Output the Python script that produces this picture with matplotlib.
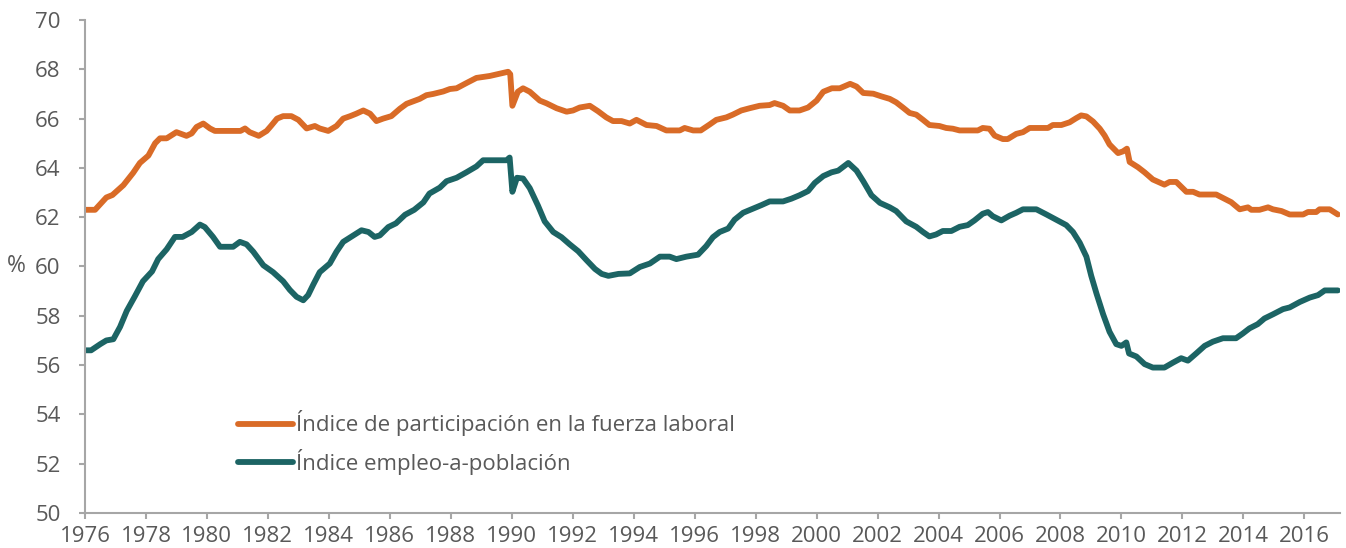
import matplotlib
matplotlib.use("Agg")
import matplotlib.pyplot as plt

# ---- data ----
lfpr_years = [1976.0, 1976.33, 1976.7, 1976.9, 1977.26, 1977.58, 1977.8, 1978.08, 1978.3, 1978.46,
              1978.68, 1979.0, 1979.33, 1979.5, 1979.66, 1979.88, 1980.1, 1980.26, 1980.86, 1981.1,
              1981.25, 1981.4, 1981.7, 1981.96, 1982.1, 1982.3, 1982.5, 1982.77, 1983.0, 1983.27,
              1983.54, 1983.7, 1983.98, 1984.25, 1984.47, 1984.7, 1984.9, 1985.13, 1985.35, 1985.56,
              1985.78, 1986.05, 1986.33, 1986.55, 1986.77, 1986.98, 1987.2, 1987.42, 1987.75, 1987.97,
              1988.19, 1988.51, 1988.84, 1989.28, 1989.66, 1989.88, 1989.95, 1990.02, 1990.2, 1990.37,
              1990.59, 1990.92, 1991.14, 1991.47, 1991.8, 1992.01, 1992.23, 1992.56, 1992.83, 1993.1,
              1993.32, 1993.6, 1993.87, 1994.09, 1994.42, 1994.75, 1995.07, 1995.51, 1995.67, 1995.95,
              1996.2, 1996.49, 1996.71, 1997.04, 1997.25, 1997.53, 1997.8, 1998.13, 1998.46, 1998.62,
              1998.9, 1999.12, 1999.44, 1999.72, 2000.0, 2000.22, 2000.5, 2000.76, 2001.1, 2001.31,
              2001.53, 2001.86, 2002.13, 2002.4, 2002.61, 2002.83, 2003.05, 2003.27, 2003.49, 2003.7,
              2004.03, 2004.25, 2004.47, 2004.69, 2005.29, 2005.45, 2005.67, 2005.84, 2006.11, 2006.27,
              2006.55, 2006.77, 2006.99, 2007.59, 2007.75, 2008.03, 2008.3, 2008.52, 2008.68, 2008.85,
              2009.07, 2009.29, 2009.45, 2009.61, 2009.89, 2010.05, 2010.18, 2010.27, 2010.54, 2010.76,
              2011.03, 2011.41, 2011.58, 2011.8, 2012.13, 2012.35, 2012.56, 2013.11, 2013.33, 2013.6,
              2013.88, 2014.15, 2014.26, 2014.53, 2014.81, 2014.97, 2015.25, 2015.52, 2015.96, 2016.12,
              2016.39, 2016.5, 2016.83, 2017.1]
lfpr_values = [62.3, 62.3, 62.8, 62.9, 63.3, 63.8, 64.2, 64.5, 65.0, 65.2,
               65.2, 65.45, 65.3, 65.4, 65.66, 65.8, 65.6, 65.5, 65.5, 65.5,
               65.6, 65.45, 65.3, 65.5, 65.7, 66.0, 66.1, 66.1, 65.95, 65.6,
               65.7, 65.6, 65.5, 65.7, 66.0, 66.1, 66.2, 66.33, 66.2, 65.9,
               66.0, 66.1, 66.4, 66.6, 66.7, 66.8, 66.95, 67.0, 67.1, 67.2,
               67.23, 67.44, 67.65, 67.73, 67.84, 67.9, 67.8, 66.52, 67.09, 67.23,
               67.09, 66.73, 66.62, 66.42, 66.28, 66.33, 66.45, 66.52, 66.3, 66.05,
               65.9, 65.9, 65.8, 65.95, 65.74, 65.7, 65.52, 65.52, 65.62, 65.52,
               65.52, 65.76, 65.95, 66.05, 66.16, 66.33, 66.42, 66.52, 66.55, 66.63,
               66.52, 66.33, 66.33, 66.45, 66.73, 67.09, 67.23, 67.23, 67.41, 67.3,
               67.04, 67.01, 66.9, 66.8, 66.66, 66.45, 66.23, 66.16, 65.95, 65.74,
               65.7, 65.62, 65.59, 65.52, 65.52, 65.62, 65.59, 65.31, 65.17, 65.17,
               65.38, 65.45, 65.62, 65.62, 65.74, 65.74, 65.85, 66.02, 66.13, 66.09,
               65.88, 65.59, 65.31, 64.95, 64.6, 64.67, 64.78, 64.24, 64.03, 63.82,
               63.53, 63.32, 63.43, 63.43, 63.03, 63.03, 62.92, 62.92, 62.78, 62.61,
               62.32, 62.4, 62.3, 62.3, 62.4, 62.32, 62.25, 62.11, 62.11, 62.21,
               62.21, 62.32, 62.32, 62.11]

epop_years = [1976.0, 1976.2, 1976.5, 1976.7, 1976.93, 1977.15, 1977.37, 1977.64, 1977.9, 1978.2,
              1978.4, 1978.68, 1978.95, 1979.2, 1979.5, 1979.77, 1979.93, 1980.2, 1980.43, 1980.86,
              1981.08, 1981.3, 1981.52, 1981.85, 1982.17, 1982.5, 1982.72, 1982.94, 1983.16, 1983.32,
              1983.49, 1983.7, 1984.03, 1984.25, 1984.47, 1984.8, 1985.07, 1985.3, 1985.5, 1985.67,
              1985.95, 1986.2, 1986.5, 1986.8, 1987.1, 1987.3, 1987.64, 1987.86, 1988.19, 1988.51,
              1988.84, 1989.06, 1989.83, 1989.93, 1990.02, 1990.17, 1990.37, 1990.59, 1990.86, 1991.08,
              1991.36, 1991.63, 1991.9, 1992.18, 1992.45, 1992.73, 1992.95, 1993.17, 1993.5, 1993.87,
              1994.2, 1994.53, 1994.86, 1995.18, 1995.4, 1995.73, 1996.11, 1996.38, 1996.6, 1996.82,
              1997.1, 1997.31, 1997.59, 1997.92, 1998.19, 1998.46, 1998.9, 1999.17, 1999.44, 1999.72,
              1999.94, 2000.22, 2000.49, 2000.71, 2001.04, 2001.31, 2001.53, 2001.8, 2002.08, 2002.4,
              2002.61, 2002.94, 2003.27, 2003.49, 2003.7, 2003.92, 2004.14, 2004.42, 2004.69, 2004.96,
              2005.18, 2005.45, 2005.62, 2005.78, 2006.06, 2006.33, 2006.55, 2006.77, 2007.21, 2007.54,
              2007.86, 2008.19, 2008.41, 2008.63, 2008.85, 2009.01, 2009.18, 2009.4, 2009.61, 2009.83,
              2010.0, 2010.16, 2010.25, 2010.49, 2010.76, 2011.03, 2011.41, 2011.69, 2011.96, 2012.18,
              2012.45, 2012.73, 2013.0, 2013.33, 2013.76, 2013.98, 2014.2, 2014.47, 2014.69, 2014.97,
              2015.3, 2015.52, 2015.85, 2016.18, 2016.45, 2016.67, 2017.1]
epop_values = [56.6, 56.6, 56.85, 57.0, 57.05, 57.55, 58.2, 58.8, 59.4, 59.8,
               60.3, 60.7, 61.2, 61.2, 61.4, 61.7, 61.6, 61.2, 60.8, 60.8,
               61.0, 60.9, 60.6, 60.05, 59.77, 59.4, 59.05, 58.77, 58.63, 58.84,
               59.27, 59.77, 60.12, 60.6, 61.0, 61.26, 61.47, 61.4, 61.2, 61.26,
               61.6, 61.75, 62.1, 62.3, 62.6, 62.96, 63.2, 63.46, 63.6, 63.82,
               64.06, 64.31, 64.31, 64.42, 63.03, 63.6, 63.57, 63.18, 62.47, 61.83,
               61.4, 61.19, 60.9, 60.62, 60.26, 59.9, 59.7, 59.62, 59.7, 59.72,
               59.98, 60.12, 60.4, 60.4, 60.3, 60.4, 60.48, 60.83, 61.19, 61.4,
               61.54, 61.9, 62.18, 62.35, 62.49, 62.64, 62.64, 62.75, 62.89, 63.06,
               63.39, 63.67, 63.82, 63.89, 64.2, 63.89, 63.46, 62.89, 62.58, 62.4,
               62.25, 61.83, 61.61, 61.4, 61.22, 61.3, 61.44, 61.44, 61.61, 61.68,
               61.87, 62.14, 62.21, 62.04, 61.87, 62.06, 62.18, 62.32, 62.32, 62.11,
               61.9, 61.68, 61.4, 60.97, 60.4, 59.62, 58.91, 58.06, 57.35, 56.85,
               56.78, 56.92, 56.47, 56.35, 56.04, 55.9, 55.9, 56.1, 56.28, 56.18,
               56.47, 56.78, 56.95, 57.09, 57.09, 57.28, 57.49, 57.66, 57.89, 58.06,
               58.27, 58.34, 58.56, 58.74, 58.84, 59.03, 59.03]

series_labels = ["Índice de participación en la fuerza laboral", "Índice empleo-a-población"]
x_ticks = list(range(1976, 2017, 2))
y_ticks = list(range(50, 71, 2))

# ---- style ----
ORANGE = "#D96B27"
TEAL = "#1C6464"
GREY_TXT = "#595959"
GREY_AX = "#A6A6A6"
plt.rcParams["font.family"] = ["Open Sans", "DejaVu Sans"]
FS_TICK = 16
FS_LEG = 16

fig = plt.figure(figsize=(13.46, 5.48), dpi=100)
ax = fig.add_axes([85 / 1346, 1 - 513 / 548, (1340 - 85) / 1346, (513 - 20) / 548])

ax.plot(lfpr_years, lfpr_values, color=ORANGE, lw=4.2, solid_capstyle="round",
        solid_joinstyle="round", label=series_labels[0])
ax.plot(epop_years, epop_values, color=TEAL, lw=4.2, solid_capstyle="round",
        solid_joinstyle="round", label=series_labels[1])

ax.set_xlim(1976, 2017.17)
ax.set_ylim(50, 70)
ax.set_xticks(x_ticks)
ax.set_yticks(y_ticks)
ax.tick_params(axis="both", colors=GREY_AX, labelcolor=GREY_TXT, labelsize=FS_TICK,
               length=4.5, width=1.5)
ax.tick_params(axis="x", pad=5)
ax.tick_params(axis="y", pad=13)
for s in ["top", "right"]:
    ax.spines[s].set_visible(False)
for s in ["left", "bottom"]:
    ax.spines[s].set_color(GREY_AX)
    ax.spines[s].set_linewidth(1.5)

ax.set_ylabel("%", rotation=0, color=GREY_TXT, fontsize=FS_TICK + 0.5, va="center", ha="center")
ax.yaxis.set_label_coords(-0.055, 0.5)

leg = ax.legend(loc="upper left", bbox_to_anchor=(0.115, 0.226), frameon=False,
                fontsize=FS_LEG, handlelength=2.45, handletextpad=0.15, labelspacing=0.55,
                borderaxespad=0)
for t in leg.get_texts():
    t.set_color(GREY_TXT)

fig.savefig("out.png", dpi=100)
